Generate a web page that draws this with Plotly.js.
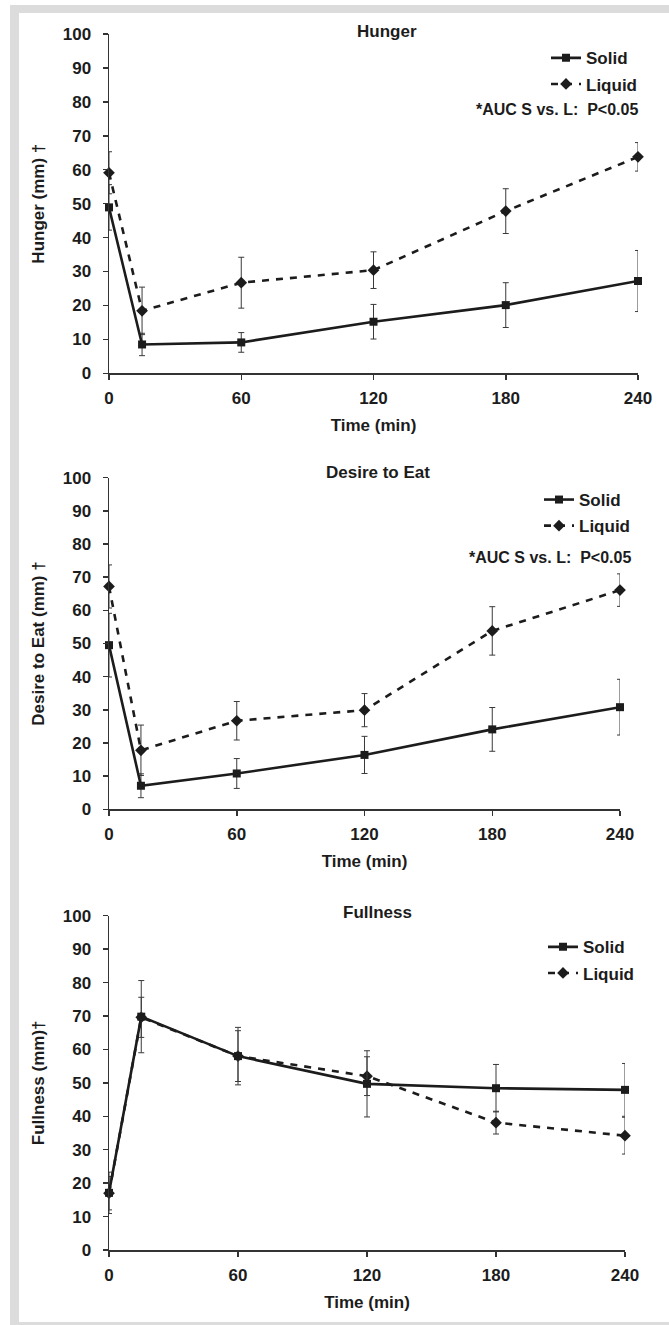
<!DOCTYPE html>
<html>
<head>
<meta charset="utf-8">
<script src="https://cdn.plot.ly/plotly-3.0.1.min.js"></script>
<style>
html,body{margin:0;padding:0;background:#fff;}
#frame{position:absolute;left:10px;top:5px;width:680px;height:1330px;background:#dcdcdc;}
#inner{position:absolute;left:19px;top:13px;width:660px;height:1309px;background:#fff;}
#plot{position:absolute;left:0;top:0;width:669px;height:1325px;}
</style>
</head>
<body>
<div id="frame"></div>
<div id="inner"></div>
<div id="plot"></div>
<script>
// ---------------- data ----------------
const time = [0, 15, 60, 120, 180, 240];
const xTicks = [0, 60, 120, 180, 240];
const seriesNames = ["Solid", "Liquid"];

const hungerSolid    = [48.9, 8.5, 9.1, 15.2, 20.1, 27.2];
const hungerSolidSD  = [6.7, 3.3, 2.9, 5.1, 6.6, 9.0];
const hungerLiquid   = [59.1, 18.4, 26.7, 30.4, 47.8, 63.8];
const hungerLiquidSD = [6.2, 7.0, 7.5, 5.4, 6.6, 4.2];

const desireSolid    = [49.5, 7.1, 10.8, 16.4, 24.1, 30.8];
const desireSolidSD  = [9.6, 3.6, 4.5, 5.6, 6.6, 8.4];
const desireLiquid   = [67.2, 17.8, 26.7, 29.9, 53.8, 66.1];
const desireLiquidSD = [6.5, 7.6, 5.8, 5.0, 7.3, 4.9];

const fullSolid      = [17.1, 69.8, 58.0, 49.7, 48.4, 47.9];
const fullSolidSD    = [6.2, 10.8, 8.6, 9.9, 7.1, 7.9];
const fullLiquid     = [17.0, 69.6, 58.0, 52.0, 38.1, 34.2];
const fullLiquidSD   = [5.0, 6.0, 7.6, 5.8, 3.4, 5.5];

const panelTitles = ["Hunger", "Desire to Eat", "Fullness"];
const yTitles = ["Hunger (mm) \u2020", "Desire to Eat (mm) \u2020", "Fullness (mm)\u2020"];
const xTitle = "Time (min)";
const aucNote = "*AUC S vs. L:  P<0.05";

// ---------------- layout helpers ----------------
const W = 669, H = 1325;
const FONT = "Liberation Sans, Arial, sans-serif";
const INK = "#1c1c1c";
const px = v => v / W;
const py = v => 1 - v / H;

// panel geometry in pixels: [xLeft, xRight, yTop, yBottom]
const panels = [
  [109, 638, 34, 373.3],
  [109, 620, 477.7, 809.3],
  [109, 625, 915.7, 1250]
];

const data = [];
const panelData = [
  [hungerSolid, hungerSolidSD, hungerLiquid, hungerLiquidSD],
  [desireSolid, desireSolidSD, desireLiquid, desireLiquidSD],
  [fullSolid, fullSolidSD, fullLiquid, fullLiquidSD]
];

panelData.forEach((d, i) => {
  const sfx = i === 0 ? "" : String(i + 1);
  const leg = "legend" + sfx;
  // Liquid first (drawn underneath), Solid on top
  data.push({
    type: "scatter", mode: "lines+markers", name: seriesNames[1],
    x: time, y: d[2], xaxis: "x" + sfx, yaxis: "y" + sfx,
    legend: leg, legendrank: 2, legendgroup: "L" + i,
    line: {color: INK, width: 2.6, dash: "7px,7px"},
    marker: {symbol: "diamond", size: 9, color: INK},
    error_y: {type: "data", array: d[3], visible: true, color: "#3a3a3a", thickness: 1, width: 3},
    cliponaxis: false
  });
  data.push({
    type: "scatter", mode: "lines+markers", name: seriesNames[0],
    x: time, y: d[0], xaxis: "x" + sfx, yaxis: "y" + sfx,
    legend: leg, legendrank: 1, legendgroup: "S" + i,
    line: {color: INK, width: 2.6},
    marker: {symbol: "square", size: 8, color: INK},
    error_y: {type: "data", array: d[1], visible: true, color: "#3a3a3a", thickness: 1, width: 3},
    cliponaxis: false
  });
});

const layout = {
  width: W, height: H,
  margin: {l: 0, r: 0, t: 0, b: 0},
  paper_bgcolor: "rgba(0,0,0,0)",
  plot_bgcolor: "rgba(0,0,0,0)",
  font: {family: FONT, size: 17, color: INK, weight: "bold"},
  annotations: []
};

const legendPos = [
  {x: 546, y: 40.3},
  {x: 539, y: 482},
  {x: 543, y: 929.3}
];
const titleCenters = [[387, 32], [377.5, 472], [377.5, 912]];

panels.forEach((p, i) => {
  const sfx = i === 0 ? "" : String(i + 1);
  layout["xaxis" + sfx] = {
    domain: [px(p[0]), px(p[1])],
    anchor: "y" + sfx,
    range: [0, 240], tickvals: xTicks, ticktext: xTicks.map(String),
    showline: true, linecolor: "#333", linewidth: 1.5,
    ticks: "outside", ticklen: 5, tickwidth: 1.5, tickcolor: "#333",
    showgrid: false, zeroline: false,
    tickfont: {family: FONT, size: 17, color: INK, weight: "bold"},
    ticklabelstandoff: 4,
    title: {text: xTitle, standoff: 12, font: {family: FONT, size: 17, color: INK, weight: "bold"}}
  };
  layout["yaxis" + sfx] = {
    domain: [py(p[3]), py(p[2])],
    anchor: "x" + sfx,
    range: [0, 100], dtick: 10, tick0: 0,
    showline: true, linecolor: "#333", linewidth: 1.5,
    ticks: "outside", ticklen: 5, tickwidth: 1.5, tickcolor: "#333",
    showgrid: false, zeroline: false,
    tickfont: {family: FONT, size: 17, color: INK, weight: "bold"},
    ticklabelstandoff: 8,
    title: {text: yTitles[i], standoff: 14, font: {family: FONT, size: 17, color: INK, weight: "bold"}}
  };
  layout["legend" + sfx] = {
    x: px(legendPos[i].x), y: py(legendPos[i].y),
    xanchor: "left", yanchor: "top",
    xref: "paper", yref: "paper",
    bgcolor: "rgba(0,0,0,0)", borderwidth: 0,
    itemwidth: 30, tracegroupgap: 1,
    font: {family: FONT, size: 17, color: INK, weight: "bold"}
  };
  layout.annotations.push({
    xref: "paper", yref: "paper",
    x: px(titleCenters[i][0]), y: py(titleCenters[i][1]),
    xanchor: "center", yanchor: "middle", showarrow: false,
    text: panelTitles[i],
    font: {family: FONT, size: 17, color: INK, weight: "bold"}
  });
});

layout.annotations.push({
  xref: "paper", yref: "paper", x: px(640), y: py(109),
  xanchor: "right", yanchor: "middle", showarrow: false,
  text: aucNote, font: {family: FONT, size: 16, color: INK, weight: "bold"}
});
layout.annotations.push({
  xref: "paper", yref: "paper", x: px(633), y: py(558),
  xanchor: "right", yanchor: "middle", showarrow: false,
  text: aucNote, font: {family: FONT, size: 16, color: INK, weight: "bold"}
});

Plotly.newPlot("plot", data, layout, {staticPlot: true, displayModeBar: false});
</script>
</body>
</html>
